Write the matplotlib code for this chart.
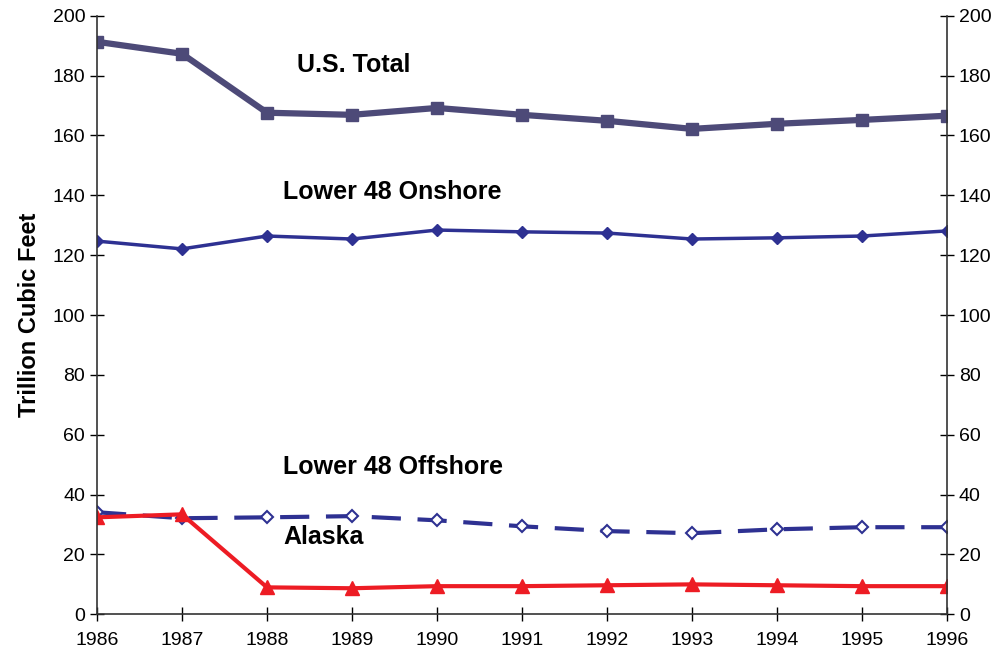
import matplotlib
matplotlib.use("Agg")
import matplotlib.pyplot as plt

plt.rcParams["font.family"] = ["Liberation Sans", "DejaVu Sans"]

years = [1986, 1987, 1988, 1989, 1990, 1991, 1992, 1993, 1994, 1995, 1996]
us_total = [191.3, 187.3, 167.6, 166.9, 169.2, 166.9, 164.9, 162.2, 163.9, 165.2, 166.6]
onshore = [124.7, 122.1, 126.4, 125.4, 128.4, 127.8, 127.4, 125.4, 125.8, 126.4, 128.1]
offshore = [34.1, 32.1, 32.4, 32.8, 31.4, 29.4, 27.8, 27.1, 28.4, 29.1, 29.1]
alaska = [32.4, 33.4, 9.0, 8.7, 9.4, 9.4, 9.7, 10.0, 9.7, 9.4, 9.4]

fig = plt.figure(figsize=(10, 6.57), dpi=100)
ax = fig.add_axes([0.097, 0.065, 0.85, 0.911])

ax.plot(years, us_total, color="#4d4a78", lw=4.5, marker="s", ms=9)
ax.plot(years, onshore, color="#2e3192", lw=2.5, marker="D", ms=6)
ax.plot(years, offshore, color="#2e3192", lw=3, ls=(0, (7, 4)), marker="D", ms=6,
        markerfacecolor="white", markeredgewidth=1.5)
ax.plot(years, alaska, color="#ed1c24", lw=3, marker="^", ms=10)

ax.set_xlim(1986, 1996)
ax.set_ylim(0, 200)
ax.set_xticks(years)
ax.set_yticks(range(0, 201, 20))
ax.spines["top"].set_visible(False)
for s in ["left", "right", "bottom"]:
    ax.spines[s].set_color("#333333")
    ax.spines[s].set_linewidth(1.2)
ax.tick_params(direction="inout", length=10, width=1, labelsize=14,
               right=True, labelright=True)
ax.tick_params(axis="x", pad=8)
ax.set_ylabel("Trillion Cubic Feet", fontsize=17, fontweight="bold", labelpad=8)

lab = dict(fontsize=18, fontweight="bold", color="black", va="center")
ax.text(1988.35, 183.7, "U.S. Total", **lab)
ax.text(1988.19, 141.1, "Lower 48 Onshore", **lab)
ax.text(1988.19, 49.2, "Lower 48 Offshore", **lab)
ax.text(1988.19, 25.8, "Alaska", **lab)

fig.savefig("out.png")
